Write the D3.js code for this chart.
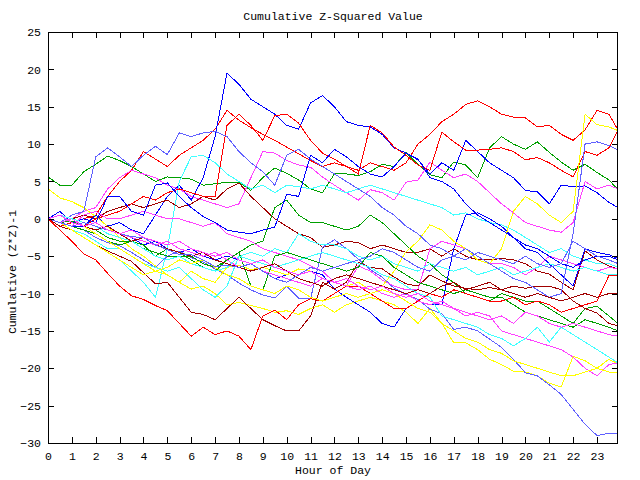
<!DOCTYPE html>
<html><head><meta charset="utf-8">
<script src="https://cdn.jsdelivr.net/npm/d3@7"></script>
<style>body{margin:0;background:#fff}text{font-family:"Liberation Mono","DejaVu Sans Mono",monospace;font-size:11.5px;fill:#000}</style>
</head><body>
<svg id="c" width="640" height="480"></svg>
<script>
const hours = [0,0.5,1,1.5,2,2.5,3,3.5,4,4.5,5,5.5,6,6.5,7,7.5,8,8.5,9,9.5,10,10.5,11,11.5,12,12.5,13,13.5,14,14.5,15,15.5,16,16.5,17,17.5,18,18.5,19,19.5,20,20.5,21,21.5,22,22.5,23,23.5,23.88];
const xTicks = [0,1,2,3,4,5,6,7,8,9,10,11,12,13,14,15,16,17,18,19,20,21,22,23];
const yTicks = [-30,-25,-20,-15,-10,-5,0,5,10,15,20,25];

const red1 = [0,0.5,-0.5,0,0.5,3,5,6.5,9,8, 7,8.5,9.5,10.5,12,14.5,13.2,12.2,11.3,10.5, 9.6,8.7,7.8,7,7.5,7,6.5,7.5,7,6.5, 7.5,10,11.3,13,14,15.3,15.8,15,14,13.6, 13.5,12.3,12.5,11.3,10.5,11.9,14.5,14, 11.9];
const red2 = [0,-1,-0.5,-1,0,0.5,1,2,3,2.5, 3.5,4,3.5,3,3,12.5,14,12.5,10.5,13.8, 14,12.8,10.5,8.8,8,7,6,12.5,11.5,9.6, 8.5,7.2,6.5,11.6,10.3,9.2,9.2,9.3,9.5,9, 7.9,8.2,7.5,6.5,5.6,9,8.5,9.5, 11.9];
const red3 = [0,-1.5,-3,-4.7,-5.5,-7.3,-9,-10.3,-10.8,-11.6, -12.3,-14,-15.7,-14.5,-15.5,-15,-15.7,-17.5,-13,-12.2, -13.5,-11.5,-10.7,-11,-10,-9,-9,-10,-11,-12, -12,-11,-10,-10.5,-9.5,-10,-10.5,-11,-11,-10.5, -11.5,-11,-11.5,-12.5,-12,-11.5,-11,-7.6, -7.6];
const green1 = [5.6,4.5,4.5,6.3,7.3,8.4,7.8,7,6,5, 5.6,5.5,5.3,4.5,4.7,4.9,4.9,3.8,5.5,6.8, 6.1,5.2,4,3.5,6,6,5.8,6.3,7.3,7, 8.9,7.3,5.9,5.5,7.6,7.2,5.5,9.5,11,10, 9.3,10.3,8.9,7.6,6.5,7.3,6.2,5.2, 3.9];
const green2 = [0,-0.5,-1,-1.5,-2,-3,-3.5,-3,-4,-4.5, -5,-5,-5,-6,-6.5,-5.5,-4.5,-3.5,-3,1.5, 2.5,0.5,-0.5,-0.5,-1,-1.5,-1,0.5,-0.5,-2, -3.5,-5,-6,-7.5,-8.5,-10,-10.5,-11,-10,-10.5, -11,-11,-12,-13,-14,-12,-11.7,-13, -14];
const green3 = [0,-0.5,-0.3,-1,-1.5,-2.5,-3,-3,-3.5,-5, -4,-4.5,-5.5,-6.5,-7,-5.5,-4.5,-9,-9.5,-5, -4.5,-5,-5.5,-6,-6.5,-7,-6.5,-4.5,-5,-6.5, -7.5,-8.5,-9,-9.5,-10,-9.5,-10,-10.5,-10.5,-11.5, -12.5,-13,-13.5,-14,-14.5,-13.5,-14,-14.5, -15];
const blue1 = [0,1,-0.5,-1,0.5,-1,-0.5,-1.5,-2,0.5, 3,4.5,2.5,5.5,11,19.5,18,16,15,14, 12.5,12,15.5,16.5,15,13,12.5,12.3,11.3,9.5, 8.8,7.9,6,7.5,6.5,10.5,9,7.5,6.5,5.5, 3.8,3.6,2,4.5,4.3,4.4,3.5,2.2, 1.5];
const blue2 = [0,-0.5,-1,-1,-0.5,-1.5,-2,-2.5,-3.5,-3, -4,-4.5,-4,-5,-5.5,-5,-5.5,-6,-7,-8, -7.5,-6.7,-7,-7.5,-9.4,-10.5,-11.5,-12.5,-14,-14.5, -12,-11,-11.5,-11.5,-4,0.5,0.8,0,-1,-2.5, -4,-4.5,-6,-7.5,-9,-4,-4.5,-4.8, -5.3];
const blue3 = [0,0.5,-0.5,0,-0.5,3,3,1,0.5,4.5, 4.8,3,1.5,0.3,-0.5,-1.5,-1.8,-2,-1.5,-1.1, 3.3,3,8.5,7.5,9.3,8.3,7,6,5.6,7, 8.8,8,5.5,5,4,2,0.5,-0.5,-1.5,-2.5, -3.5,-4,-5,-6,-6.5,-5.5,-5,-5, -5.5];
const magenta1 = [0,0.5,0,1,1.5,4,5.5,6.5,6,5.5, 4.5,4,3,2.5,2,1.5,2,5.5,9,8.8, 7.8,7.2,6.9,5.6,4.5,3.5,2.5,3.9,3.5,2.5, 4.9,5.2,7.6,6.5,5.5,6,5,3.5,2,0.8, -0.5,-1,-1.5,-1.8,-0.5,5,4,4.5, 4];
const magenta2 = [0,-0.5,-1,0.5,1,0,0,0.5,1,0.5, 0,0,-0.5,-1,-0.5,-2,-2.5,-3,-4,-4.5, -5,-5.5,-6.3,-7,-8.5,-9,-6.3,-7,-8.2,-9, -9.5,-9.5,-4,-3,-3.5,-4,-5,-6,-6,-6.5, -7.5,-6.5,-5,-5.5,-6,-6.5,-7,-6.5, -6.7];
const magenta3 = [0,-0.5,0,-1,-1.5,-1,-2,-2.5,-3,-3.5, -3,-4,-4.5,-5,-4.5,-5.5,-6.5,-6,-7,-7.5, -8,-8.5,-9,-8,-8.5,-9,-9.5,-9,-10,-10.5, -10,-11,-11.5,-11,-12,-13,-12.5,-13,-15,-15.5, -16,-16.5,-17,-17.5,-18.5,-20,-21,-19.5, -19.3];
const magenta4 = [0,0.5,-0.5,-1,-0.5,-1.5,-2,-1.5,-2.5,-3, -3.5,-3,-4,-4.5,-5,-4.5,-5.5,-6,-5.5,-6.5, -7,-7.5,-7,-8,-8.5,-8,-9,-9.5,-9,-10, -10.5,-10,-11,-11.5,-12,-12.5,-13,-13.5,-13,-14, -12.5,-13,-14,-14.5,-14,-14.5,-15,-15.5, -15.7];
const cyan1 = [0,-1,-1.5,-2.5,-3.5,-4.5,-5.5,-7,-8.5,-10.5, -4,5,8.3,8.5,7.5,6,5,4,4.5,3.5, 4.5,4.3,4,4.5,4,3.5,4,4.5,4,3.5, 3,2.5,2,1.5,0.5,0.8,0,-0.5,-0.8,-1.5, -2.5,-3.5,-4.5,-4,-5,-5.5,-6,-6, -6.5];
const cyan2 = [0,-0.5,-1.5,-2,-3,-4,-4,-5,-6,-6.5, -7,-6.5,-8,-9.5,-10.5,-9,-5,-4.5,-5,-4, -4.5,-2,-3,-3.5,-3.5,-4,-5,-5.5,-5,-6, -6.5,-7,-6,-6.5,-7,-6.5,-7.5,-7,-6.5,-7.5, -7,-6.5,-6,-6.5,-7,-6.5,-7,-7.5, -7.5];
const cyan3 = [0,0.5,0,-0.5,-1,-2,-2.5,-3,-4,-5, -5.5,-5,-6,-6.5,-7,-6.5,-5,-5.5,-6,-6.5, -6,-5.5,-5,-4.5,-5,-5.5,-6,-6.5,-7.5,-8, -9,-10,-10.5,-13,-13.5,-14,-14.5,-15.5,-16,-17, -16,-14.5,-16.5,-14.5,-15.5,-16.5,-17.5,-18.5, -19.3];
const darkred1 = [0,-0.5,0,0.5,0,1,1.5,2,1.5,2, 2.5,1.5,2,3,2.5,4,4.8,3,1.5,0, -1,-2,-2.5,-3.8,-3.5,-3,-3.2,-4,-3.5,-4, -4.5,-4.5,-4,-5,-4,-5,-5.5,-5.5,-5.3,-5.5, -6,-7,-7.4,-8.5,-9.5,-4.3,-5.5,-6.3, -6.7];
const darkred2 = [0,-1,-1.5,-2.5,-3.5,-4.3,-5,-5.7,-7.2,-8.7, -8.5,-10.5,-12.5,-12.8,-13.5,-12,-10.5,-12,-13.5,-14.3, -15,-15,-13,-8.5,-9.4,-8.5,-5.8,-6.5,-6.7,-7.8, -8.7,-9,-7.5,-8.3,-9,-9.3,-9.5,-9.2,-9.5,-9, -9.3,-9,-9,-9.5,-11,-12,-12.6,-14, -14.3];
const darkred3 = [0,0.5,-0.5,-1,-1.5,-1,-2,-3,-2.5,-3.5, -4,-4.5,-5,-4.5,-5.5,-6,-6.5,-7,-6.5,-6, -7,-8,-8.5,-9,-8,-7.5,-8,-8.5,-9,-9.5, -10,-9.5,-10,-9,-8.5,-9.5,-9,-8.5,-9.5,-10, -10.5,-10,-10.5,-11,-10.5,-10,-10.5,-10, -10];
const yellow1 = [4,2.8,2.3,1.5,0.3,-1,-2.5,-4,-5,-6.3, -7.5,-8.5,-9.4,-9,-10,-11.5,-11.2,-11.6,-12,-12.5, -12.3,-12.8,-12,-11.5,-12.5,-11.5,-11,-10.5,-11,-11.5, -12.5,-14,-12,-14,-16.6,-16.6,-17.5,-18.8,-19.5,-20.4, -20.5,-21,-22,-22.5,-18.4,-19,-20,-18.8, -19.4];
const yellow2 = [0,-0.5,-1.5,-2.5,-3.5,-4.5,-5.5,-6.5,-7.5,-7, -7.5,-8.5,-7,-8,-8.5,-6.5,-6.2,-6.8,-6.5,-7, -7.5,-6.7,-7,-8,-8.5,-9,-8.5,-9.5,-9,-7, -4.4,-3,-0.8,-1.5,-3,-4,-5.5,-6,-4,1, 3,2,0.5,-0.5,1,14,12.6,12.3, 11.8];
const yellow3 = [0,0.5,-0.5,-1,-2,-3,-4,-5,-6,-7, -6.5,-5.5,-6,-5.5,-6.5,-7.5,-8,-9,-9.5,-10, -9,-9.5,-10.5,-11,-10.5,-10,-10.5,-10,-9.5,-10, -11,-12,-12.5,-14,-15,-16,-16.5,-17.5,-18,-19, -19.5,-20,-20.5,-21,-21,-20.5,-20,-20.5, -20.5];
const slate1 = [0,-0.5,-1,-1.5,-2.5,-3.2,-3.6,-4.5,-5.5,-6.5, -5,-4.3,-5.2,-5.8,-6.7,-7.5,-8.6,-9.5,-10.2,-10.6, -9,-10.6,-10.7,-3.8,-2.8,-4,-5.4,-6.8,-7.8,-9.3, -10.1,-10.8,-12.1,-12.7,-14.8,-14.5,-15,-16.1,-17.2,-18.8, -20.6,-21,-22.2,-23.5,-25.5,-27.5,-29,-28.7, -28.7];
const slate2 = [0,-0.5,0.5,1,8.3,9.5,8.3,7,8.5,9.7, 8.6,11.5,11,11.5,11.7,11,9,7.5,6.3,4.5, 8.5,9.3,8,7,6,5,4,3,1.5,0.5, -1,-2,-3.5,-4,-5,-4,-5,-6,-7,-8, -8.5,-9.5,-10.5,-10,-2,10,10.3,9.8, 9.2];
const slate3 = [0,-0.5,-1,-0.5,-1,-1.5,-2,-2.4,-2.5,-3.5, -4.1,-4.8,-4.8,-5.5,-6.4,-6.2,-6.5,-6,-7,-8, -8.5,-7.5,-6.5,-7,-6.5,-6,-5.5,-5,-4,-4.5, -5.5,-6.5,-7,-5.5,-5,-5.5,-4.5,-5,-5.5,-6, -5,-6,-6.5,-6,-3,-4,-5,-5.5, -6];

const seriesValues = [red1, green1, blue1, magenta1, cyan1, darkred1, yellow1, slate1,
                      red2, green2, blue2, magenta2, cyan2, darkred2, yellow2, slate2,
                      red3, green3, blue3, magenta3, cyan3, darkred3, yellow3, slate3, magenta4];
const palette = {red:"#ff0000", green:"#00a000", blue:"#0000ff", magenta:"#ff40ff", cyan:"#40ffff", darkred:"#a00000", yellow:"#ffff00", slate:"#6060ff"};
const seriesColorKeys = ["red","green","blue","magenta","cyan","darkred","yellow","slate",
                         "red","green","blue","magenta","cyan","darkred","yellow","slate",
                         "red","green","blue","magenta","cyan","darkred","yellow","slate","magenta"];

const svg = d3.select("#c");
svg.append("rect").attr("width",640).attr("height",480).attr("fill","#fff");
const L = 48, R = 618, T = 32, B = 443;
const x = d3.scaleLinear().domain([0, 23.88]).range([L, R]);
const y = d3.scaleLinear().domain([-30, 25]).range([B, T]);

svg.append("clipPath").attr("id","clip").append("rect").attr("x",L).attr("y",T).attr("width",R-L).attr("height",B-T);

const line = d3.line().x((d,i)=>x(hours[i])).y(d=>y(d));
const g = svg.append("g").attr("clip-path","url(#clip)");
seriesValues.forEach((vals, k) => {
  g.append("path").attr("d", line(vals)).attr("fill","none")
   .attr("stroke", palette[seriesColorKeys[k]]).attr("stroke-width",1)
   .attr("shape-rendering","crispEdges");
});

const tick = 6;
const ax = (sel) => { sel.select(".domain").remove(); sel.selectAll("line").attr("stroke","#000").attr("shape-rendering","crispEdges"); };
svg.append("g").attr("transform",`translate(0,${B})`)
  .call(d3.axisBottom(x).tickValues(xTicks).tickSize(-tick).tickPadding(9).tickFormat(d3.format("d"))).call(ax);
svg.append("g").attr("transform",`translate(0,${T})`)
  .call(d3.axisTop(x).tickValues(xTicks).tickSize(-tick).tickFormat("")).call(ax);
svg.append("g").attr("transform",`translate(${L},0)`)
  .call(d3.axisLeft(y).tickValues(yTicks).tickSize(-tick).tickPadding(7).tickFormat(d3.format("d"))).call(ax);
svg.append("g").attr("transform",`translate(${R},0)`)
  .call(d3.axisRight(y).tickValues(yTicks).tickSize(-tick).tickFormat("")).call(ax);
svg.selectAll(".tick text").attr("font-family",null).attr("font-size",null).style("fill","#000");

svg.append("rect").attr("x",L+0.5).attr("y",T+0.5).attr("width",R-L-1).attr("height",B-T)
  .attr("fill","none").attr("stroke","#000").attr("shape-rendering","crispEdges");

svg.append("text").attr("x",333).attr("y",20).attr("text-anchor","middle").text("Cumulative Z-Squared Value");
svg.append("text").attr("x",333).attr("y",474).attr("text-anchor","middle").text("Hour of Day");
svg.append("text").attr("transform","translate(16,272) rotate(-90)").attr("text-anchor","middle").text("Cumulative (Z*Z)-1");
</script>
</body></html>
